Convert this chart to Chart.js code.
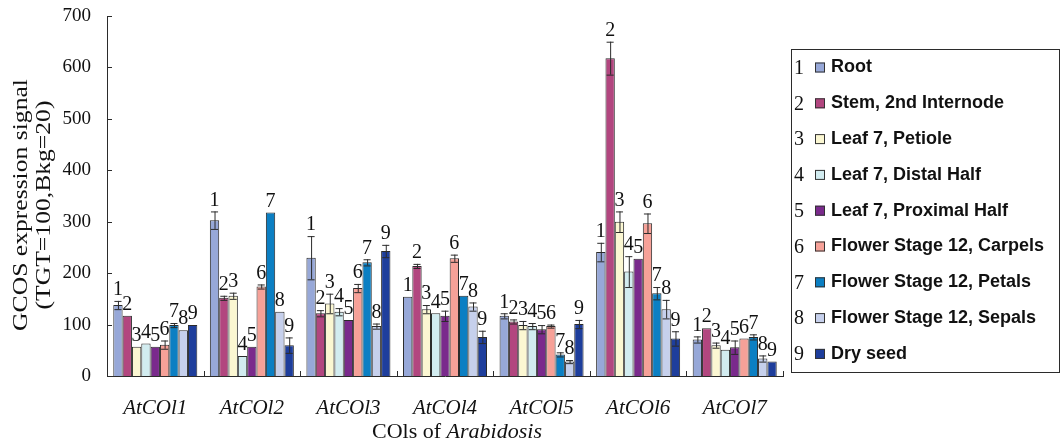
<!DOCTYPE html>
<html>
<head>
<meta charset="utf-8">
<script src="https://cdn.jsdelivr.net/npm/chart.js@4/dist/chart.umd.min.js"></script>
<style>
  html, body { margin: 0; padding: 0; background: #fff; }
  #wrap { width: 1063px; height: 446px; position: relative; }
</style>
</head>
<body>
<div id="wrap"><canvas id="c"></canvas></div>
<script>
// Genes on the x axis
const genes = ['AtCOl1', 'AtCOl2', 'AtCOl3', 'AtCOl4', 'AtCOl5', 'AtCOl6', 'AtCOl7'];

// Tissues (one series each)
const tissues = [
  'Root', 'Stem, 2nd Internode', 'Leaf 7, Petiole', 'Leaf 7, Distal Half',
  'Leaf 7, Proximal Half', 'Flower Stage 12, Carpels', 'Flower Stage 12, Petals',
  'Flower Stage 12, Sepals', 'Dry seed'
];

// Mean GCOS signal per tissue, across the seven genes
const root      = [138, 303, 230, 154, 117, 241, 71];
const stem      = [117, 152, 122, 214, 106, 618, 93];
const petiole   = [57, 156, 141, 130, 99, 300, 60];
const distal    = [63, 39, 125, 122, 97, 203, 51];
const proximal  = [57, 57, 109, 117, 91, 228, 56];
const carpels   = [61, 174, 171, 229, 97, 297, 73];
const petals    = [99, 318, 221, 156, 42, 161, 76];
const sepals    = [89, 125, 97, 135, 28, 130, 34];
const drySeed   = [99, 60, 243, 76, 101, 73, 28];

// Standard deviations, same order
const rootErr     = [8, 17, 42, 0, 5, 18, 6];
const stemErr     = [0, 4, 6, 4, 4, 32, 0];
const petioleErr  = [0, 6, 19, 8, 8, 20, 5];
const distalErr   = [0, 0, 7, 0, 6, 30, 0];
const proximalErr = [0, 0, 0, 10, 8, 0, 13];
const carpelsErr  = [8, 4, 8, 7, 3, 19, 0];
const petalsErr   = [4, 0, 6, 0, 4, 12, 5];
const sepalsErr   = [0, 0, 5, 8, 3, 18, 6];
const drySeedErr  = [0, 15, 12, 12, 8, 14, 0];

// Y axis ticks
const yTicks = [0, 100, 200, 300, 400, 500, 600, 700];

const seriesValues = [root, stem, petiole, distal, proximal, carpels, petals, sepals, drySeed];
const seriesErrors = [rootErr, stemErr, petioleErr, distalErr, proximalErr, carpelsErr, petalsErr, sepalsErr, drySeedErr];
const colors = ['#97a8d8', '#b2467f', '#fbf7d2', '#d2ecf0', '#7a2a8c', '#f6a198', '#0b7fc3', '#c6d0ec', '#1e3e9c'];

const SERIF = '"Liberation Serif", "Times New Roman", serif';
const SANS = '"Liberation Sans", Arial, sans-serif';
const INK = '#2b2b2b';

const datasets = tissues.map((name, i) => ({
  label: name,
  data: seriesValues[i],
  errors: seriesErrors[i],
  backgroundColor: colors[i],
  borderColor: INK,
  borderWidth: 1,
  borderSkipped: 'bottom',
  barPercentage: 1.0,
  categoryPercentage: 0.87
}));

// Error bars, numbered bar labels, inward ticks, axis titles and the legend box
const decorations = {
  id: 'decorations',
  afterDatasetsDraw(chart) {
    const ctx = chart.ctx;
    const y = chart.scales.y;
    const area = chart.chartArea;
    ctx.save();

    // error bars + bar numbers
    chart.data.datasets.forEach((ds, di) => {
      const meta = chart.getDatasetMeta(di);
      meta.data.forEach((bar, i) => {
        const v = ds.data[i];
        const e = ds.errors[i];
        const cx = bar.x;
        const half = bar.width * 0.38;
        const top = y.getPixelForValue(v + e);
        if (e > 0) {
          const bot = y.getPixelForValue(v - e);
          ctx.strokeStyle = INK;
          ctx.lineWidth = 1;
          ctx.beginPath();
          ctx.moveTo(cx + 0.5, top);
          ctx.lineTo(cx + 0.5, bot);
          ctx.moveTo(cx - half, top + 0.5);
          ctx.lineTo(cx + half, top + 0.5);
          ctx.moveTo(cx - half, bot + 0.5);
          ctx.lineTo(cx + half, bot + 0.5);
          ctx.stroke();
        }
        ctx.fillStyle = '#111';
        ctx.font = '20px ' + SERIF;
        ctx.textAlign = 'center';
        ctx.textBaseline = 'bottom';
        ctx.fillText(String(di + 1), cx, top - 1);
      });
    });

    // inward ticks on the axes
    ctx.strokeStyle = INK;
    ctx.lineWidth = 1;
    ctx.beginPath();
    yTicks.forEach(t => {
      const py = Math.round(y.getPixelForValue(t)) + 0.5;
      ctx.moveTo(area.left, py);
      ctx.lineTo(area.left + 5, py);
    });
    const step = (area.right - area.left) / genes.length;
    for (let k = 1; k <= genes.length; k++) {
      const px = Math.round(area.left + step * k) + 0.5;
      ctx.moveTo(px, area.bottom);
      ctx.lineTo(px, area.bottom - 5);
    }
    ctx.stroke();

    // y axis title (two lines, rotated, slightly widened serif)
    ctx.fillStyle = '#111';
    ctx.font = '21px ' + SERIF;
    ctx.textAlign = 'center';
    ctx.textBaseline = 'middle';
    const midY = 205;
    [['GCOS expression signal', 21], ['(TGT=100,Bkg=20)', 44]].forEach(([t, px]) => {
      ctx.save();
      ctx.translate(px, midY);
      ctx.rotate(-Math.PI / 2);
      ctx.scale(1.22, 1);
      ctx.fillText(t, 0, 0);
      ctx.restore();
    });

    // x axis title with italic genus name
    const partA = 'COls of ';
    const partB = 'Arabidosis';
    ctx.textBaseline = 'middle';
    ctx.textAlign = 'left';
    ctx.font = '22px ' + SERIF;
    const wA = ctx.measureText(partA).width;
    ctx.font = 'italic 22px ' + SERIF;
    const wB = ctx.measureText(partB).width;
    const tx = (area.left + area.right) / 2 + 12 - (wA + wB) / 2;
    ctx.font = '22px ' + SERIF;
    ctx.fillText(partA, tx, 432);
    ctx.font = 'italic 22px ' + SERIF;
    ctx.fillText(partB, tx + wA, 432);

    // legend box
    const lx = 791, ly = 49, lw = 268, lh = 323;
    ctx.strokeStyle = INK;
    ctx.lineWidth = 1;
    ctx.strokeRect(lx + 0.5, ly + 0.5, lw, lh);
    tissues.forEach((name, i) => {
      const ry = 67.5 + i * 35.8;
      ctx.fillStyle = '#111';
      ctx.font = '20px ' + SERIF;
      ctx.textAlign = 'left';
      ctx.textBaseline = 'middle';
      ctx.fillText(String(i + 1), 794, ry + 1);
      ctx.fillStyle = colors[i];
      ctx.fillRect(815, ry - 5, 10, 10);
      ctx.strokeStyle = '#333';
      ctx.strokeRect(815.5, ry - 4.5, 9, 9);
      ctx.fillStyle = '#111';
      ctx.font = 'bold 18px ' + SANS;
      ctx.fillText(name, 831, ry);
    });

    ctx.restore();
  }
};

new Chart(document.getElementById('c'), {
  type: 'bar',
  data: { labels: genes, datasets },
  plugins: [decorations],
  options: {
    responsive: true,
    maintainAspectRatio: false,
    animation: false,
    layout: { padding: { top: 16, right: 280, left: 0, bottom: 0 } },
    plugins: {
      legend: { display: false },
      tooltip: { enabled: false }
    },
    scales: {
      x: {
        grid: { display: false, drawTicks: false },
        border: { display: true, color: INK, width: 1 },
        ticks: {
          color: '#111',
          padding: 20,
          font: { family: SERIF, size: 21, style: 'italic' }
        },
        afterFit(scale) { scale.height = 70; }
      },
      y: {
        min: 0,
        max: 700,
        afterBuildTicks(scale) { scale.ticks = yTicks.map(v => ({ value: v })); },
        grid: { display: false, drawTicks: false },
        border: { display: true, color: INK, width: 1 },
        ticks: {
          color: '#111',
          padding: 16,
          font: { family: SERIF, size: 19 }
        },
        afterFit(scale) {
          scale.width = 107;
          scale.paddingTop = 0;
          scale.paddingBottom = 0;
        }
      }
    }
  }
});
</script>
</body>
</html>
